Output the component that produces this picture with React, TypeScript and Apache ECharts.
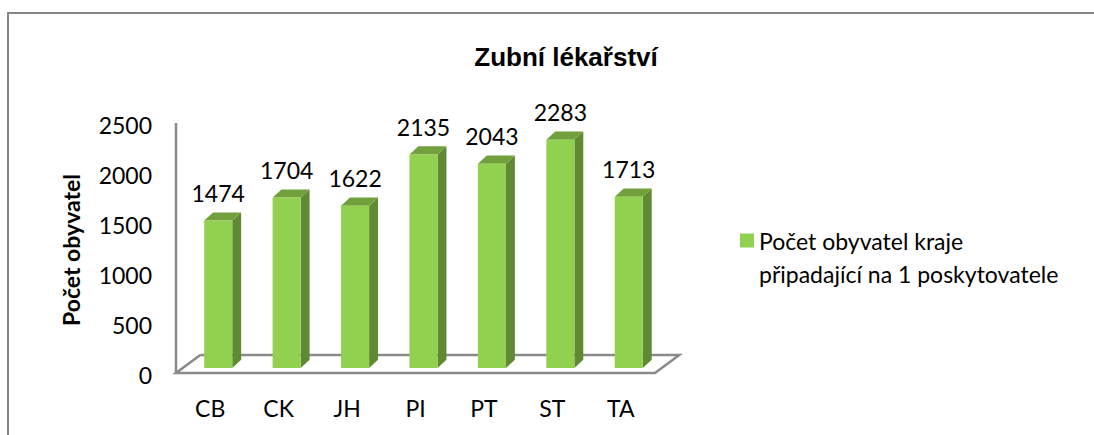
import React, { useEffect, useRef } from "react";
import * as echarts from "echarts";

const categories = ["CB", "CK", "JH", "PI", "PT", "ST", "TA"];
const values = [1474, 1704, 1622, 2135, 2043, 2283, 1713];
const seriesName = "Počet obyvatel kraje připadající na 1 poskytovatele";
const legendLines = ["Počet obyvatel kraje", "připadající na 1 poskytovatele"];
const titleText = "Zubní lékařství";
const yAxisTitle = "Počet obyvatel";
const yMin = 0;
const yMax = 2500;
const yInterval = 500;

const FONT = "Lato, 'Open Sans', sans-serif";
const LINE = "#8a8a8a";

export default function App() {
  const ref = useRef<HTMLDivElement>(null);
  useEffect(() => {
    if (!ref.current) return;
    document.body.style.margin = "0";
    document.body.style.overflow = "hidden";
    const chart = echarts.init(ref.current, undefined, { renderer: "svg" });
    const lastIdx = categories.length - 1;

    const floorItem = (params: any, api: any) => {
      const bw = api.size([1, 0])[0];
      const p0 = api.coord([0, 0]);
      const pN = api.coord([lastIdx, 0]);
      const pTop = api.coord([0, yMax]);
      const left = p0[0] - bw / 2;
      const right = pN[0] + bw / 2;
      const y0 = p0[1];
      const fy = y0 + 5;
      const by = y0 - 13;
      const dx = bw * 0.355;
      const style = { stroke: LINE, lineWidth: 2.5, fill: "none" };
      return {
        type: "group",
        children: [
          { type: "polyline", shape: { points: [[left + dx, by], [right + dx, by], [right, fy], [left, fy], [left + dx, by]] }, style },
          { type: "line", shape: { x1: left, y1: pTop[1] + 5, x2: left, y2: fy }, style },
        ],
      };
    };

    const barItem = (params: any, api: any) => {
      const idx = api.value(0);
      const v = api.value(1);
      const base = api.coord([idx, 0]);
      const top = api.coord([idx, v]);
      const bw = api.size([1, 0])[0];
      const cx = base[0] + bw * 0.117;
      const w = bw * 0.41;
      const x0 = cx - w / 2;
      const x1 = cx + w / 2;
      const dx = bw * 0.13;
      const dy = -bw * 0.12;
      const yb = base[1];
      const yt = top[1];
      return {
        type: "group",
        children: [
          { type: "polygon", shape: { points: [[x1, yt], [x1 + dx, yt + dy], [x1 + dx, yb + dy], [x1, yb]] }, style: { fill: "#5f8a33" } },
          { type: "polygon", shape: { points: [[x0, yt], [x0 + dx, yt + dy], [x1 + dx, yt + dy], [x1, yt]] }, style: { fill: "#71a03c" } },
          { type: "rect", shape: { x: x0, y: yt, width: w, height: yb - yt }, style: { fill: "#92d050" } },
          {
            type: "text",
            style: {
              x: cx,
              y: yt - 27.5,
              text: String(v),
              fill: "#000",
              font: `23px ${FONT}`,
              align: "center",
              verticalAlign: "middle",
            },
          },
        ],
      };
    };

    chart.setOption({
      animation: false,
      backgroundColor: "#fff",
      title: {
        text: titleText,
        left: 561,
        textAlign: "center",
        top: 39,
        textStyle: { fontFamily: "'Liberation Sans', Arial, sans-serif", fontWeight: "bold", fontSize: 26, color: "#000" },
      },
      graphic: [
        { type: "polyline", shape: { points: [[8, 435], [8, 13], [1094, 13]] }, style: { fill: "none", stroke: "#868686", lineWidth: 2 }, silent: true },
      ],
      legend: {
        data: [seriesName],
        left: 740,
        top: 191,
        padding: 0,
        itemWidth: 14,
        itemHeight: 14,
        icon: "rect",
        formatter: () => "\n" + legendLines.join("\n"),
        textStyle: { fontFamily: FONT, fontSize: 23, color: "#000", lineHeight: 33 },
      },
      grid: [
        { left: 176, width: 479, top: 118, bottom: 67 },
        { left: 176, width: 479, top: 125, bottom: 60 },
      ],
      xAxis: [
        {
          type: "category",
          data: categories,
          gridIndex: 0,
          axisLine: { show: false },
          axisTick: { show: false },
          axisLabel: { margin: 28, color: "#000", fontFamily: FONT, fontSize: 23 },
        },
        { type: "category", data: categories, gridIndex: 1, show: false },
      ],
      yAxis: [
        { type: "value", gridIndex: 0, min: yMin, max: yMax, interval: yInterval, show: false },
        {
          type: "value",
          gridIndex: 1,
          min: yMin,
          max: yMax,
          interval: yInterval,
          axisLine: { show: false },
          axisTick: { show: false },
          splitLine: { show: false },
          axisLabel: { margin: 24, color: "#000", fontFamily: FONT, fontSize: 23, formatter: (v: number) => String(v) },
          name: yAxisTitle,
          nameLocation: "middle",
          nameRotate: 90,
          nameGap: 94,
          nameTextStyle: { fontFamily: FONT, fontSize: 23, fontWeight: "bold", color: "#000" },
        },
      ],
      series: [
        {
          type: "custom",
          name: "floor",
          xAxisIndex: 0,
          yAxisIndex: 0,
          renderItem: floorItem,
          data: [[0, 0]],
          silent: true,
        },
        {
          type: "custom",
          name: seriesName,
          xAxisIndex: 0,
          yAxisIndex: 0,
          itemStyle: { color: "#92d050" },
          renderItem: barItem,
          data: categories.map((c, i) => [i, values[i]]),
        },
      ],
    });
    return () => chart.dispose();
  }, []);
  return <div ref={ref} style={{ position: "fixed", left: 0, top: 0, width: 1094, height: 435 }} />;
}
